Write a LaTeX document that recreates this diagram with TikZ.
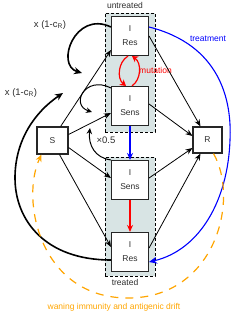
\documentclass[tikz,border=0pt]{standalone}
\usepackage{fontspec}
\setmainfont{Liberation Sans}
\usetikzlibrary{arrows.meta}
\definecolor{regfill}{RGB}{216,228,228}
\definecolor{txtgray}{RGB}{45,45,45}
\definecolor{orng}{RGB}{255,165,0}
\definecolor{mutred}{RGB}{255,0,0}
\definecolor{trblue}{RGB}{0,0,255}
\begin{document}
\begin{tikzpicture}[x=1pt,y=-1pt,
  box/.style={draw=black!85,line width=1.1pt,fill=white,minimum width=37pt,minimum height=39pt,inner sep=0pt,align=center,font=\fontsize{8.5}{14}\selectfont,text=txtgray},
  smallbox/.style={box,minimum width=31pt,minimum height=27pt},
  region/.style={draw=black,dash pattern=on 3pt off 2pt,line width=0.9pt,fill=regfill,minimum width=50pt,minimum height=119pt,inner sep=0pt},
  lbl/.style={font=\fontsize{8.5}{10}\selectfont,inner sep=0pt},
  biglbl/.style={font=\fontsize{9.5}{11}\selectfont,inner sep=0pt,text=txtgray},
  conn/.style={line width=0.8pt,-{Stealth[length=7pt,width=5.5pt]}},
  thickloop/.style={line width=1.6pt,-{Stealth[length=8pt,width=7pt]}},
  thinloop/.style={line width=1pt,-{Stealth[length=6pt,width=5.5pt]}},
  mut/.style={draw=mutred,line width=1.2pt,-{Stealth[length=6pt,width=7pt]}},
]
\useasboundingbox (0,0) rectangle (235,314);

% regions
\node[region] (ureg) at (130,72.5) {};
\node[region] (treg) at (130,216.5) {};

% boxes
\node[box] (uR) at (130,36) {I\\Res};
\node[box] (uS) at (130,106) {I\\Sens};
\node[box] (tS) at (130,180) {I\\Sens};
\node[box] (tR) at (130,252) {I\\Res};
\node[smallbox] (S) at (52.5,140.5) {S};
\node[smallbox,minimum width=29pt,minimum height=26pt] (R) at (207.5,140) {R};

% labels
\node[lbl,text=txtgray] (lu) at (125,5) {untreated};
\node[lbl,text=txtgray] (lt) at (125,282) {treated};
\node[lbl,text=mutred,anchor=west] (lm) at (139,70) {mutation};
\node[lbl,text=trblue] (ltr) at (208,39) {treatment};
\node[lbl,text=orng] (lw) at (114,307.5) {waning immunity and antigenic drift};
\node[biglbl] (lc1) at (50,25) {x (1-c$_\mathrm{R}$)};
\node[biglbl] (lc2) at (21,93) {x (1-c$_\mathrm{R}$)};
\node[biglbl] (lh) at (106,140.5) {×0.5};

% free ends of modulating loops
\coordinate (e1) at (82,73);
\coordinate (e2) at (63,93);
\coordinate (e3) at (92,112);
\coordinate (e4) at (90,128);

% S to infected
\draw[conn] (S.60) -- ([yshift=-14pt]uR.west);
\draw[conn] ([yshift=6pt]S.east) -- ([yshift=-7pt]uS.west);
\draw[conn] ([yshift=-7pt]S.east) -- ([yshift=2pt]tS.west);
\draw[conn] ([xshift=7pt]S.south) -- ([yshift=5pt]tR.west);

% infected to R
\draw[conn] (uR.east) -- ([xshift=-7pt]R.north);
\draw[conn] ([yshift=2pt]uS.east) -- ([yshift=4pt]R.west);
\draw[conn] ([yshift=2pt]tS.east) -- ([yshift=-8pt]R.west);
\draw[conn] ([yshift=4pt]tR.east) -- ([xshift=-7pt]R.south);

% treatment transitions
\draw[trblue,line width=1.1pt,-{Stealth[length=7pt,width=6pt]}] (uS.south) -- (tS.north);
\draw[mutred,line width=1.1pt,-{Stealth[length=7pt,width=6pt]}] (tS.south) -- (tR.north);

% mutation
\draw[mut] ([xshift=2pt]uS.north) to[bend right=55] ([xshift=2pt]uR.south);
\draw[mut] ([xshift=-2pt]uR.south) to[bend right=55] ([xshift=-4pt]uS.north);

% treatment arc
\draw[trblue,line width=1.1pt,-{Stealth[length=8pt,width=7pt]}] ([yshift=9pt]uR.east) .. controls (220,45) and (232,100) .. (230,140) .. controls (228,200) and (200,250) .. ([yshift=-10pt]tR.east);

% loops
\draw[thickloop] ([yshift=9pt]uR.west) .. controls (75,10) and (55,65) .. (e1);
\draw[thickloop] ([yshift=-8pt]tR.west) .. controls (45,260) and (15,220) .. (15,178) .. controls (15,140) and (35,112) .. (e2);
\draw[thinloop] ([yshift=-2pt]uS.north west) .. controls (85,75) and (70,105) .. (e3);
\draw[thinloop] (tS.north west) .. controls (95,158) and (88,145) .. (e4);

% waning immunity
\draw[orng,line width=1.2pt,dash pattern=on 8pt off 7pt,-{Stealth[length=7pt,width=6pt]}] ([xshift=6pt]R.south) .. controls (240,200) and (215,298) .. (128,298) .. controls (40,298) and (20,200) .. ([xshift=-11pt]S.south);
\end{tikzpicture}
\end{document}
